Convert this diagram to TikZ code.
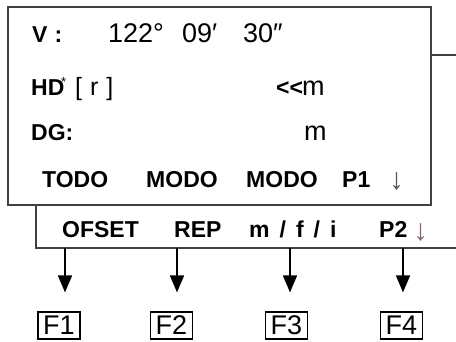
\documentclass[tikz,border=0pt]{standalone}
\usepackage{fontspec}
\setmainfont{Liberation Sans}
\usetikzlibrary{arrows.meta}
\definecolor{framegray}{HTML}{404040}
\definecolor{arrowgray}{HTML}{555555}
\definecolor{arrowred}{HTML}{8A6464}
\begin{document}
\begin{tikzpicture}[x=1pt,y=-1pt]
    \tikzstyle{lcd}=[draw=framegray, line width=2pt, fill=white]
    \tikzstyle{lbl}=[anchor=base west, inner sep=0pt, font=\bfseries\fontsize{23}{25}\selectfont]
    \tikzstyle{val}=[anchor=base west, inner sep=0pt, font=\fontsize{27}{30}\selectfont]
    \tikzstyle{pg}=[anchor=base west, inner sep=0pt, font=\fontsize{30}{32}\selectfont]
    \tikzstyle{fkey}=[draw=black, line width=1.2pt, minimum width=42pt, minimum height=27pt, inner sep=0pt, font=\fontsize{27}{28}\selectfont]
    \tikzstyle{press}=[-{Triangle[width=14pt,length=17pt]}, line width=1.6pt]

    \useasboundingbox (0,0) rectangle (456,341);

    % second page behind, then the screen
    \draw[lcd] (36,55) rectangle (470,248);
    \draw[lcd] (8,7) rectangle (431,205);

    % screen lines
    \node[lbl] (v) at (32,42) {V\hspace{7pt}:};
    \node[val] (deg) at (108,42) {122°};
    \node[val] (min) at (182,42) {09′};
    \node[val] (sec) at (243,42) {30″};

    \node[lbl] (hd) at (31,95) {HD};
    \node[anchor=north west, inner sep=0pt, font=\fontsize{13}{14}\selectfont] (star) at (61,77) {*};
    \node[val, font=\fontsize{25}{28}\selectfont] (r) at (75,95) {[\hspace{8pt}r\hspace{8pt}]};
    \node[lbl] (ll) at (276,95) {{<}{<}};
    \node[val] (hdm) at (302,95) {m};

    \node[lbl] (dg) at (31,140) {DG:};
    \node[val] (dgm) at (304,140) {m};

    % page 1 soft keys
    \node[lbl] (todo) at (42,187) {TODO};
    \node[lbl] (modoa) at (146,187) {MODO};
    \node[lbl] (modob) at (246,187) {MODO};
    \node[lbl] (pa) at (342,187) {P1};
    \node[pg, text=arrowgray] (pad) at (389,189) {↓};

    % page 2 soft keys
    \node[lbl] (ofset) at (62,237) {OFSET};
    \node[lbl] (rep) at (174,237) {REP};
    \node[lbl] (mfi) at (249,237) {m\hspace{10pt}/\hspace{10pt}f\hspace{10pt}/\hspace{10pt}i};
    \node[lbl] (pb) at (379,237) {P2};
    \node[pg, text=arrowred] (pbd) at (413,240) {↓};

    % function keys
    \node[fkey] (F1) at (59,325.5) {F1};
    \node[fkey] (F2) at (171.5,325.5) {F2};
    \node[fkey] (F3) at (286.5,325.5) {F3};
    \node[fkey] (F4) at (401.5,325.5) {F4};

    \coordinate (a1) at (65,248);
    \coordinate (a2) at (177,248);
    \coordinate (a3) at (290,248);
    \coordinate (a4) at (403,248);

    \draw[press, shorten >=19pt] (a1) -- (F1.north -| a1);
    \draw[press, shorten >=19pt] (a2) -- (F2.north -| a2);
    \draw[press, shorten >=19pt] (a3) -- (F3.north -| a3);
    \draw[press, shorten >=19pt] (a4) -- (F4.north -| a4);
\end{tikzpicture}
\end{document}
